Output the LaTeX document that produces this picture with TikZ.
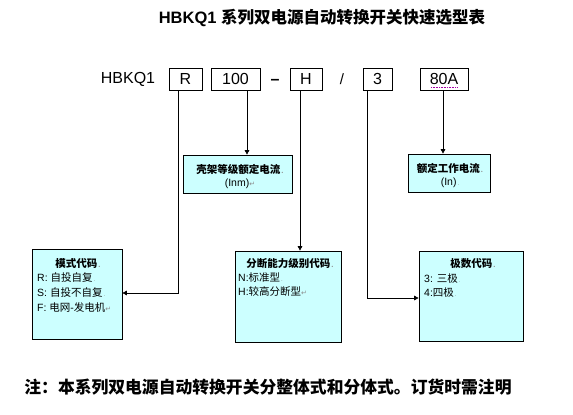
\documentclass[tikz,border=0pt]{standalone}
\usepackage{fontspec}
\setmainfont{Liberation Sans}
\newfontfamily\cjk{Noto Sans CJK SC}
\newfontfamily\djv{DejaVu Sans}
\usetikzlibrary{arrows.meta}
\definecolor{boxfill}{HTML}{CCFFFF}
\definecolor{markgray}{HTML}{8C8C8C}
\newcommand\pmk{{\djv\color{markgray}\fontsize{7}{7}\selectfont ↵}}
\newcommand\pdot{{\color{markgray}\fontsize{6}{6}\selectfont\,.}}
\begin{document}
\begin{tikzpicture}[x=1pt,y=-1pt,
  code/.style={draw, line width=0.7pt, minimum height=22pt, inner sep=0pt, font=\fontsize{16}{16}\selectfont},
  plain/.style={inner sep=0pt, font=\fontsize{16}{16}\selectfont},
  infobox/.style={draw, fill=boxfill, line width=0.7pt, inner sep=0pt},
  head/.style={inner sep=0pt, font=\cjk\bfseries\fontsize{10.5}{10.5}\selectfont},
  item/.style={inner sep=0pt, anchor=west, font=\fontsize{10.5}{10.5}\selectfont},
  arr/.style={line width=0.7pt, -{Triangle[length=4.5pt,width=4.5pt]}},
  ln/.style={line width=0.7pt}]
\useasboundingbox (0,0) rectangle (573,415);
\fill[white] (0,0) rectangle (573,415);

% title
\node[inner sep=0pt, font=\bfseries\fontsize{16.5}{16.5}\selectfont] (title) at (322,18)
  {HBKQ1 {\cjk\bfseries 系列双电源自动转换开关快速选型表}};

% code row
\node[plain] (hb) at (128,79) {HBKQ1};
\node[code, minimum width=33pt] (R) at (185.5,79) {R};
\node[code, minimum width=49pt] (C100) at (235.5,79) {100};
\node[plain, anchor=base, font=\bfseries\fontsize{16}{16}\selectfont] (dash) at (275,84) {–};
\node[code, minimum width=32pt] (H) at (306,79) {H};
\node[plain, font=\fontsize{15}{15}\selectfont] (slash) at (342,79) {/};
\node[code, minimum width=29pt] (P3) at (377.5,79) {3};
\node[code, minimum width=48pt] (A80) at (444,79) {80A};
\draw[violet!70!magenta, densely dotted, line width=0.6pt] (431,87.5) -- (458,87.5);

% info boxes
\node[infobox, minimum width=109pt, minimum height=38pt] (inm) at (237.5,174) {};
\node[head] (inmh) at (240,169) {壳架等级额定电流\pdot};
\node[inner sep=0pt, font=\fontsize{10.5}{10.5}\selectfont] (inml) at (240,184) {(Inm)\pmk};

\node[infobox, minimum width=82pt, minimum height=38pt] (inn) at (449,173) {};
\node[head] (innh) at (450,168) {额定工作电流\pdot};
\node[inner sep=0pt, font=\fontsize{10.5}{10.5}\selectfont] (innl) at (450,183) {(In)\pdot};

\node[infobox, minimum width=90pt, minimum height=90pt] (mode) at (77,294) {};
\node[head] (modeh) at (78,263) {模式代码\pdot};
\node[item] (mode1) at (37,278) {R: {\cjk 自投自复}\pdot};
\node[item] (mode2) at (37,293) {S: {\cjk 自投不自复}\pdot};
\node[item] (mode3) at (37,308) {F: {\cjk 电网}-{\cjk 发电机}\pmk};

\node[infobox, minimum width=106pt, minimum height=91pt] (brk) at (288,296.5) {};
\node[head] (brkh) at (290,264) {分断能力级别代码\pdot};
\node[item] (brk1) at (238,278) {N:{\cjk 标准型}\pdot};
\node[item] (brk2) at (238,292) {H:{\cjk 较高分断型}\pmk};

\node[infobox, minimum width=104pt, minimum height=90pt] (pole) at (471,296) {};
\node[head] (poleh) at (473,264) {极数代码\pdot};
\node[item] (pole1) at (424,279) {3: {\cjk 三极}\pdot};
\node[item] (pole2) at (424,293) {4:{\cjk 四极}\pdot};

% connectors
\draw[arr] (R.south -| 178,0) |- (mode.east |- 0,293);
\draw[arr] (C100.south -| 247,0) -- (inm.north -| 247,0);
\draw[arr] (H.south -| 300,0) -- (brk.north -| 300,0);
\draw[arr] (P3.south -| 367.5,0) |- (pole.west |- 0,298);
\draw[arr] (A80.south -| 443,0) -- (inn.north -| 443,0);

% footer
\node[inner sep=0pt, font=\cjk\bfseries\fontsize{16.8}{16.8}\selectfont] (note) at (268,387)
  {注：本系列双电源自动转换开关分整体式和分体式。订货时需注明};
\end{tikzpicture}
\end{document}
